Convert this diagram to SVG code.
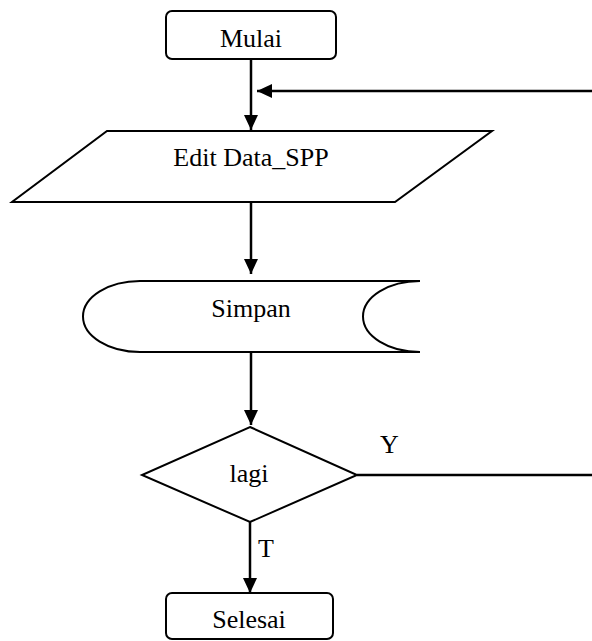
<svg xmlns="http://www.w3.org/2000/svg" width="592" height="641" viewBox="0 0 592 641">
<defs>
<marker id="arr" markerUnits="userSpaceOnUse" markerWidth="16" markerHeight="14" refX="15" refY="7" orient="auto">
<path d="M0,0 L15,7 L0,14 Z" fill="#000"/>
</marker>
<style>
.s{fill:#fff;stroke:#000;stroke-width:2}
.c{fill:none;stroke:#000;stroke-width:2.5}
.t{font-family:"Liberation Serif","Times New Roman",serif;font-size:26px;fill:#000;text-anchor:middle}
.l{font-family:"Liberation Serif","Times New Roman",serif;font-size:26px;fill:#000}
</style>
</defs>
<rect width="592" height="641" fill="#fff"/>
<g id="connectors">
<line class="c" x1="251" y1="59" x2="251" y2="130" marker-end="url(#arr)"/>
<line class="c" x1="592" y1="91" x2="257" y2="91" marker-end="url(#arr)"/>
<line class="c" x1="251" y1="202" x2="251" y2="274" marker-end="url(#arr)"/>
<line class="c" x1="251" y1="352" x2="251" y2="425" marker-end="url(#arr)"/>
<line class="c" x1="250" y1="522" x2="250" y2="593" marker-end="url(#arr)"/>
<line class="c" x1="357" y1="475" x2="592" y2="475"/>
<text class="l" x="380" y="453">Y</text>
<text class="l" x="258" y="557">T</text>
</g>
<g id="mulai">
<rect class="s" x="166" y="11" width="170" height="48" rx="6"/>
<text class="t" x="251" y="47">Mulai</text>
</g>
<g id="edit">
<polygon class="s" points="107,131 492,131 395,202 12,202"/>
<text class="t" x="251" y="166">Edit Data_SPP</text>
</g>
<g id="simpan">
<path class="s" d="M140,281 L420,281 A57,35.5 0 0 0 420,352 L140,352 A57,35.5 0 0 1 140,281 Z"/>
<text class="t" x="251" y="317">Simpan</text>
</g>
<g id="lagi">
<polygon class="s" points="250,427 357,475 250,522 142,475"/>
<text class="t" x="249" y="482">lagi</text>
</g>
<g id="selesai">
<rect class="s" x="166" y="593" width="167" height="46" rx="6"/>
<text class="t" x="249" y="628">Selesai</text>
</g>
</svg>
